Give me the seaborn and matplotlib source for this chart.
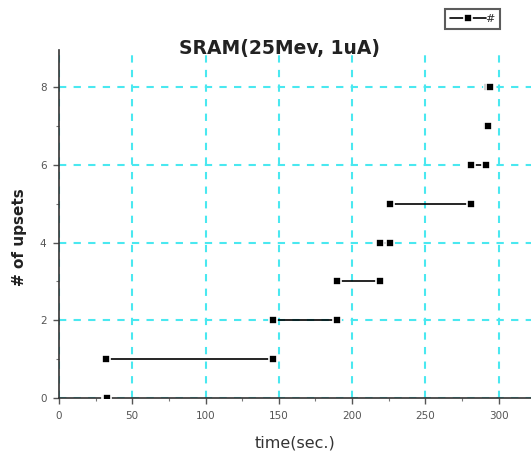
import matplotlib
matplotlib.use('Agg')
import matplotlib.pyplot as plt
from matplotlib.ticker import MultipleLocator
from matplotlib.lines import Line2D
import pandas as pd
import seaborn as sns

# each level of upsets is held from one upset time to the next
levels = [0, 1, 2, 3, 4, 5, 6, 7, 8]
t_start = [32, 32, 146, 190, 219, 226, 281, 292, 293]
t_end = [33, 146, 190, 219, 226, 281, 291, 293, 294]

rows = []
for lv, a, b in zip(levels, t_start, t_end):
    rows.append({'time': a, 'upsets': lv, 'seg': lv})
    rows.append({'time': b, 'upsets': lv, 'seg': lv})
df = pd.DataFrame(rows)

sns.set_style('white')
plt.rcParams['font.family'] = ['DejaVu Sans']

fig = plt.figure(figsize=(5.31, 4.55), dpi=100)
ax = fig.add_axes([0.111, 0.125, 0.889, 0.765])

mk = dict(marker='s', markersize=6, markerfacecolor='black',
          markeredgecolor='white', markeredgewidth=1.2)
sns.lineplot(data=df, x='time', y='upsets', units='seg', estimator=None,
             color='black', lw=1.2, ax=ax, legend=False, zorder=3, **mk)

ax.set_xlim(0, 322)
ax.set_ylim(0, 8.95)
ax.xaxis.set_major_locator(MultipleLocator(50))
ax.xaxis.set_minor_locator(MultipleLocator(25))
ax.yaxis.set_major_locator(MultipleLocator(2))
ax.yaxis.set_minor_locator(MultipleLocator(1))
ax.grid(True, which='major', color='#4ae8f0', ls=(0, (3.5, 3.5)), lw=1.5, zorder=0)

for s in ['top', 'right']:
    ax.spines[s].set_visible(False)
for s in ['left', 'bottom']:
    ax.spines[s].set_color('#333333')
    ax.spines[s].set_linewidth(1.2)

ax.tick_params(which='major', direction='out', length=4, width=1,
               colors='#555555', labelsize=7.5, pad=5,
               bottom=True, left=True)
ax.tick_params(which='minor', direction='out', length=2.5, width=0.8,
               colors='#777777', bottom=True, left=True)
ax.set_xlabel('')
ax.set_ylabel('')

fig.text(0.527, 0.894, 'SRAM(25Mev, 1uA)', fontsize=13.5, fontweight='bold',
         color='#222222', ha='center', va='center')
fig.text(0.556, 0.026, 'time(sec.)', fontsize=11.5, color='#333333',
         ha='center', va='center')
fig.text(0.036, 0.479, '# of upsets', fontsize=11, fontweight='bold',
         color='#222222', ha='center', va='center', rotation=90)

handle = Line2D([], [], color='black', lw=1.2, **mk)
leg = fig.legend([handle], ['#'], loc='upper right', bbox_to_anchor=(500 / 531, 1 - 9 / 455),
                 frameon=True, fancybox=False, edgecolor='#333333', fontsize=8,
                 handlelength=3.2, handletextpad=0.0, borderpad=0.45, borderaxespad=0)
leg.get_frame().set_linewidth(1.5)

fig.savefig('out.png', dpi=100)
